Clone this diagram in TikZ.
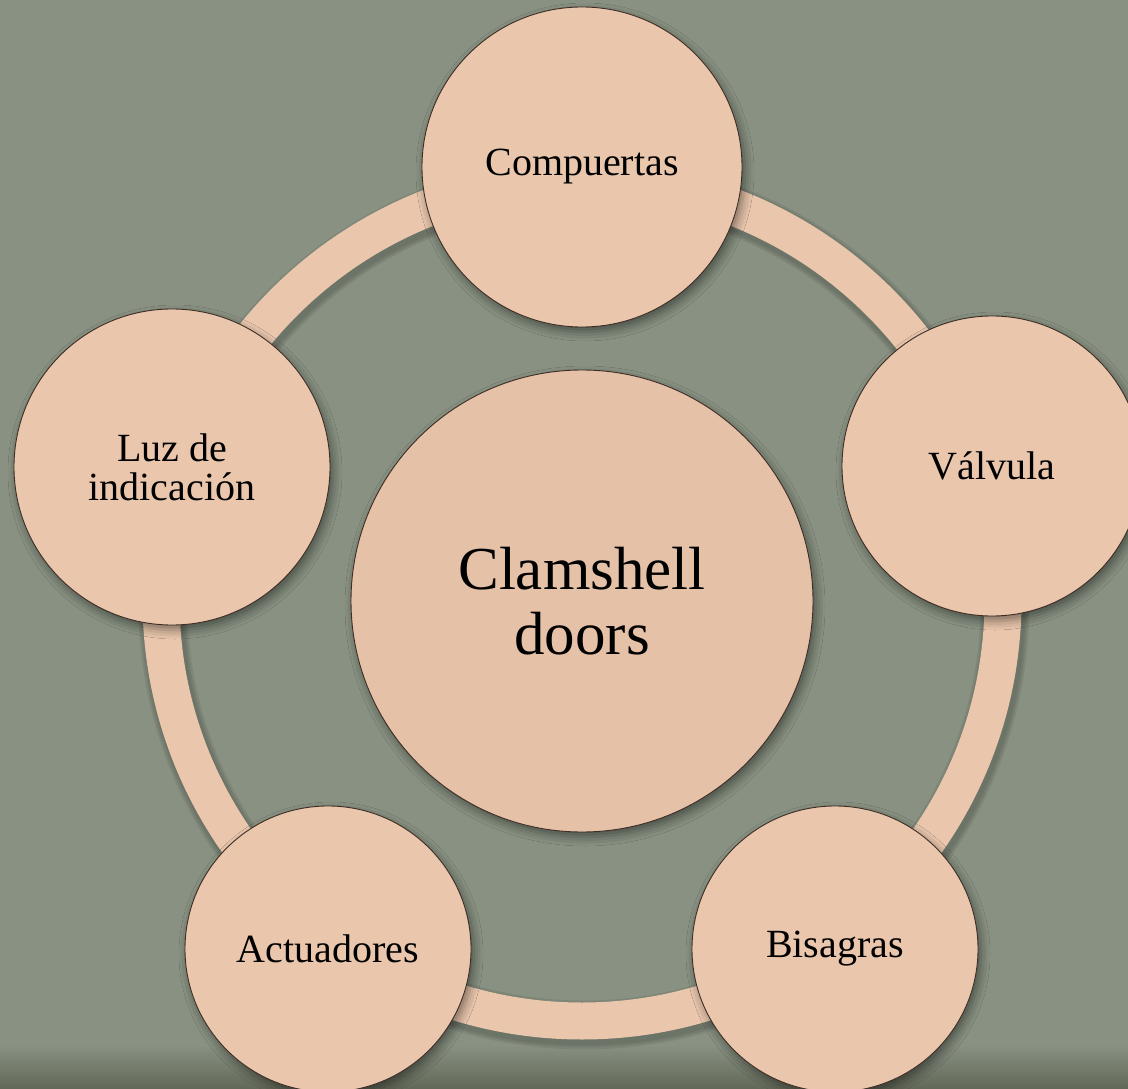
\documentclass[tikz,border=0pt]{standalone}
\usepackage{fontspec}
\setmainfont{Liberation Serif}
\usetikzlibrary{positioning,backgrounds,shadows.blur}
\definecolor{slate}{RGB}{136,145,130}
\definecolor{slatedark}{RGB}{98,104,88}
\definecolor{peach}{RGB}{233,198,172}
\definecolor{peachhub}{RGB}{229,193,167}
\definecolor{rim}{RGB}{62,46,38}
\tikzset{
  disc/.style={circle,draw=rim,line width=0.9pt,fill=peach,align=center,inner sep=0pt,
    font=\fontsize{40}{39}\selectfont,
    blur shadow={shadow xshift=3pt,shadow yshift=-5pt,shadow blur radius=9pt,shadow opacity=45}},
  hubdisc/.style={disc,fill=peachhub,font=\fontsize{61}{65}\selectfont},
  ringband/.style={line width=37pt,draw=peach},
  ringshade/.style={draw=black,opacity=0.07},
}
\begin{document}
\begin{tikzpicture}[x=1pt,y=-1pt]
  \useasboundingbox (0,0) rectangle (1128,1089);
  \clip (0,0) rectangle (1128,1089);
  \fill[slate] (0,0) rectangle (1128,1089);
  \shade[top color=slate,bottom color=slatedark] (0,1045) rectangle (1128,1089);
  % ring behind the circles, with a soft shadow
  \coordinate (ringc) at (582,600);
  \foreach \w in {41,45,49}
    \draw[ringshade,line width=\w pt] ([xshift=2pt,yshift=-4pt]ringc) circle[radius=421];
  \draw[ringband] (ringc) circle[radius=421];
  \node[hubdisc,minimum size=462pt] (hub) at (582,601) {Clamshell\\doors};
  \node[disc,minimum size=320pt] (comp) at (582,167) {Compuertas};
  \node[disc,minimum size=300pt] (valv) at (992,466) {Válvula};
  \node[disc,minimum size=286pt] (bis) at (835,949) {Bisagras};
  \node[disc,minimum size=286pt] (act) at (328,949) {Actuadores};
  \node[disc,minimum size=316pt] (luz) at (172,467) {Luz de\\indicación};
\end{tikzpicture}
\end{document}
